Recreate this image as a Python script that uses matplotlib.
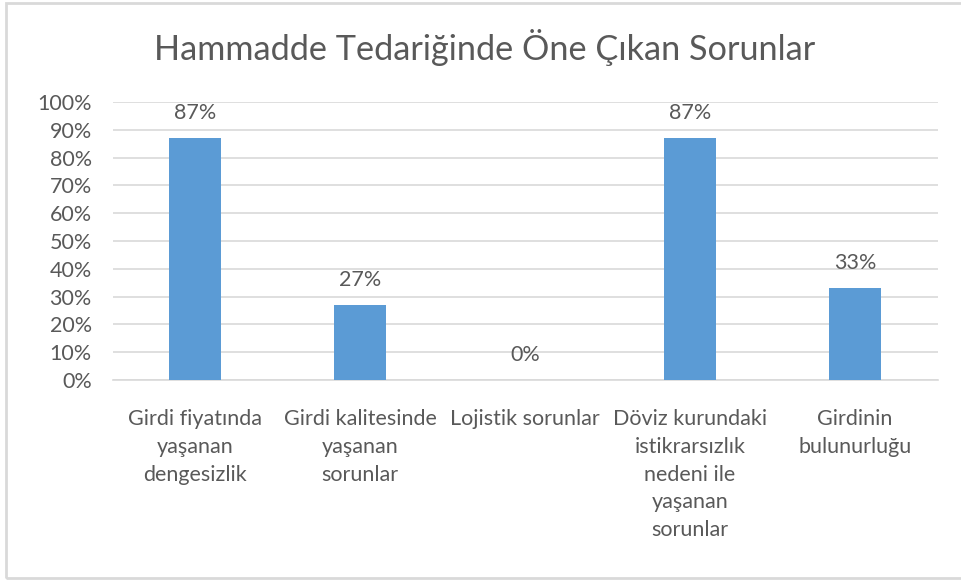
import matplotlib.pyplot as plt
from matplotlib.patches import Rectangle

plt.rcParams['font.family'] = ['Lato', 'DejaVu Sans']

categories = ['Girdi fiyatında\nyaşanan\ndengesizlik',
              'Girdi kalitesinde\nyaşanan\nsorunlar',
              'Lojistik sorunlar',
              'Döviz kurundaki\nistikrarsızlık\nnedeni ile\nyaşanan\nsorunlar',
              'Girdinin\nbulunurluğu']
values = [87, 27, 0, 87, 33]
y_ticks = [0, 10, 20, 30, 40, 50, 60, 70, 80, 90, 100]

text_col = '#595959'
grid_col = '#D9D9D9'

fig = plt.figure(figsize=(9.61, 5.81), dpi=100)
ax = fig.add_axes([112.5 / 961, 201 / 581, 825 / 961, 278 / 581])

x = range(len(values))
bars = ax.bar(x, values, width=0.315, color='#5B9BD5', zorder=3)

for xi, v in zip(x, values):
    ax.text(xi, v + 9, f'{v}%', ha='center', va='center',
            fontsize=15.5, color=text_col)

ax.set_xlim(-0.5, len(values) - 0.5)
ax.set_ylim(0, 100)
ax.set_yticks(y_ticks)
ax.set_yticklabels([f'{t}%' for t in y_ticks], fontsize=15.5, color=text_col)
ax.set_xticks(list(x))
ax.set_xticklabels(categories, fontsize=15.5, color=text_col, linespacing=1.48,
                   va='top')
ax.tick_params(axis='both', length=0)
ax.tick_params(axis='x', pad=21)
ax.tick_params(axis='y', pad=15)

ax.yaxis.grid(True, color=grid_col, linewidth=1.2, zorder=0)
for s in ['top', 'right', 'left']:
    ax.spines[s].set_visible(False)
ax.spines['bottom'].set_color(grid_col)
ax.spines['bottom'].set_linewidth(1.2)

fig.text(485 / 961, 1 - 48 / 581, 'Hammadde Tedariğinde Öne Çıkan Sorunlar',
         ha='center', va='center', fontsize=24.7, color=text_col)

fig.patches.append(Rectangle((6 / 961, 3 / 581), 1.0, 575 / 581,
                             transform=fig.transFigure, fill=False,
                             edgecolor=grid_col, linewidth=2))

fig.savefig('out.png', dpi=100)
